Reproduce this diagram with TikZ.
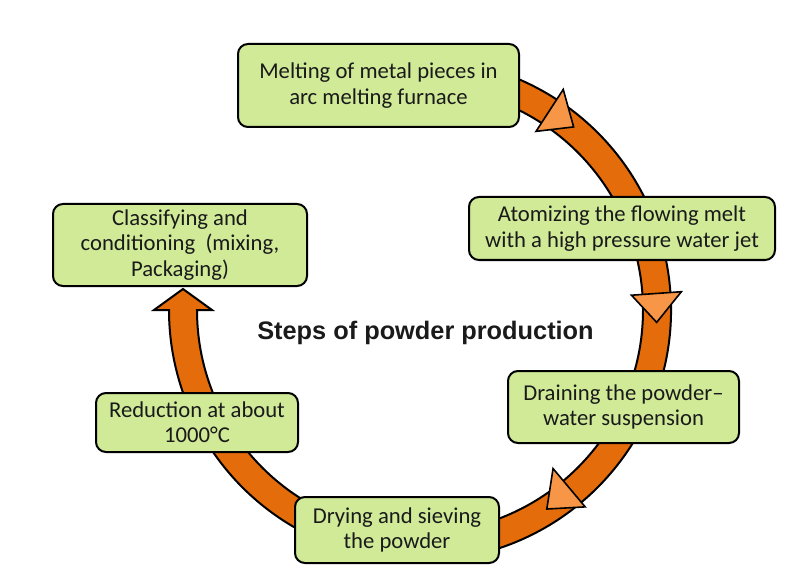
\documentclass[tikz,border=0pt]{standalone}
\usepackage{fontspec}
\newfontfamily\boxfont{Carlito}
\newfontfamily\titlefont{Liberation Sans}
\usetikzlibrary{calc}
\definecolor{bandorange}{RGB}{228,108,10}
\definecolor{triorange}{RGB}{247,150,70}
\definecolor{boxgreen}{RGB}{208,234,152}
\definecolor{inkblack}{RGB}{26,26,26}
\begin{document}
\begin{tikzpicture}[x=0.75pt,y=-0.75pt,
  box/.style={draw=black, line width=1.5pt, fill=boxgreen, rounded corners=7.5pt,
    align=center, inner sep=0pt, text=inkblack,
    font=\boxfont\fontsize{17}{19}\selectfont},
  band/.style={draw=black, line width=1.5pt, fill=bandorange, line join=miter},
  tri/.style={draw=black, line width=1.2pt, fill=triorange, line join=miter}]
\useasboundingbox (0,0) rectangle (800,574);
\coordinate (c) at (420,310);
% circular band ending in an arrowhead
\path[band] ($(c)+(-100:251)$) arc[start angle=-100, end angle=180, radius=251]
  -- (154,310) -- (183,289) -- (212,310) -- (197,310)
  arc[start angle=180, end angle=-100, radius=223] -- cycle;
% direction triangles on the band
\path[tri] ($(c)+(-57:263)$) -- ($(c)+(-57:213)$) -- ($(c)+(-50:239)$) -- cycle;
\path[tri] ($(c)+(-4:262)$) -- ($(c)+(-4:212)$) -- ($(c)+(3:237)$) -- cycle;
\path[tri] ($(c)+(50:257)$) -- ($(c)+(50:207)$) -- ($(c)+(57.5:236)$) -- cycle;
% boxes
\node[box, minimum width=210.75pt, minimum height=62.25pt] (melt) at (378.5,85.5)
  {Melting of metal pieces in\\arc melting furnace};
\node[box, minimum width=229.5pt, minimum height=47.25pt] (atom) at (622,228.5)
  {Atomizing the flowing melt\\with a high pressure water jet};
\node[box, minimum width=173.25pt, minimum height=54pt] (drain) at (623.5,407)
  {Draining the powder–\\water suspension};
\node[box, minimum width=153pt, minimum height=49.5pt] (dry) at (397,530)
  {Drying and sieving\\the powder};
\node[box, minimum width=151.5pt, minimum height=44.25pt] (red) at (197,422.5)
  {Reduction at about\\1000°C};
\node[box, minimum width=190.5pt, minimum height=61.5pt] (class) at (180,245)
  {Classifying and\\conditioning\ \ (mixing,\\Packaging)};
% title
\node[anchor=base, inner sep=0pt, text=inkblack,
  font=\titlefont\bfseries\fontsize{19}{23}\selectfont] (title) at (425.5,339)
  {Steps of powder production};
\end{tikzpicture}
\end{document}
